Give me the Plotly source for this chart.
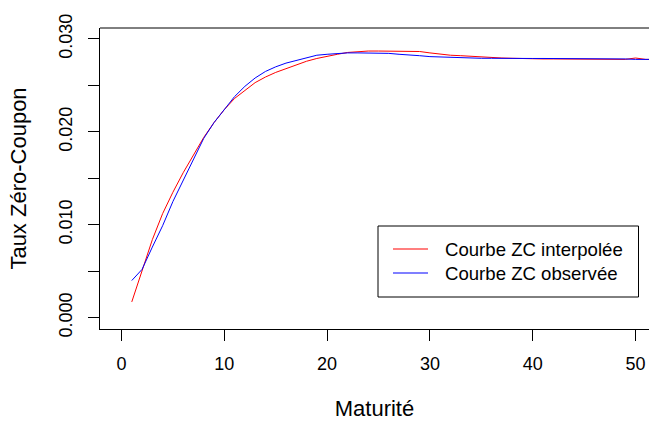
import plotly.graph_objects as go

maturite = list(range(1, 53))

zc_observee = [4.0, 5.2, 7.6, 9.9, 12.5, 14.8, 17.0, 19.3, 21.0, 22.4,
               23.8, 24.9, 25.8, 26.5, 27.0, 27.4, 27.7, 28.0, 28.25, 28.35,
               28.45, 28.5, 28.5, 28.5, 28.5, 28.45, 28.35, 28.3, 28.2, 28.1,
               28.05, 28.0, 27.95, 27.92, 27.92, 27.92, 27.9, 27.9, 27.9, 27.9,
               27.9, 27.9, 27.9, 27.9, 27.9, 27.85, 27.85, 27.85, 27.85, 27.8,
               27.8, 27.8]

zc_interpolee = [1.7, 5.1, 8.4, 11.2, 13.5, 15.6, 17.5, 19.4, 21.0, 22.4,
                 23.6, 24.5, 25.3, 25.9, 26.4, 26.8, 27.2, 27.6, 27.9, 28.15,
                 28.35, 28.55, 28.65, 28.7, 28.7, 28.7, 28.7, 28.7, 28.65, 28.5,
                 28.35, 28.25, 28.2, 28.12, 28.05, 28.0, 27.95, 27.92, 27.88, 27.85,
                 27.85, 27.85, 27.85, 27.85, 27.85, 27.8, 27.8, 27.8, 27.8, 27.95,
                 27.8, 27.8]

zc_observee = [v / 1000 for v in zc_observee]
zc_interpolee = [v / 1000 for v in zc_interpolee]

x_ticks = [0, 10, 20, 30, 40, 50]
y_ticks = [0.0, 0.005, 0.010, 0.015, 0.020, 0.025, 0.030]
y_ticktext = ["0.000", "", "0.010", "", "0.020", "", "0.030"]

series_names = ["Courbe ZC interpolée", "Courbe ZC observée"]
series_colors = ["#FF0000", "#0000FF"]

FONT = "Liberation Sans, Arial, sans-serif"
W, H = 649, 421
ML, MR, MT, MB = 100, 0, 28, 92
PW, PH = W - ML - MR, H - MT - MB


def px_x(px):
    return (px - ML) / PW


def px_y(py):
    return (H - MB - py) / PH


fig = go.Figure()
for name, col, ys in zip(series_names, series_colors, [zc_interpolee, zc_observee]):
    fig.add_trace(go.Scatter(x=maturite, y=ys, mode="lines", name=name,
                             line=dict(color=col, width=1)))

fig.update_layout(
    width=W, height=H,
    margin=dict(l=ML, r=MR, t=MT, b=MB),
    paper_bgcolor="white", plot_bgcolor="white",
    font=dict(family=FONT, size=18, color="black"),
    showlegend=False,
    xaxis=dict(range=[-2.09, 51.31], tickvals=x_ticks, showgrid=False,
               zeroline=False, showline=True, linecolor="black", linewidth=1,
               ticks="outside", ticklen=11, tickcolor="black", tickwidth=1,
               ticklabelstandoff=7,
               title=dict(text="Maturité", standoff=28)),
    yaxis=dict(range=[-0.001216, 0.03118], tickvals=y_ticks, ticktext=y_ticktext,
               tickangle=-90, showgrid=False, zeroline=False, showline=True,
               linecolor="black", linewidth=1, ticks="outside", ticklen=11,
               tickcolor="black", tickwidth=1, ticklabelstandoff=9,
               title=dict(text="Taux Zéro-Coupon", standoff=23)),
)
# top border of the box
fig.add_shape(type="line", xref="paper", yref="paper", x0=0, x1=1, y0=1, y1=1,
              line=dict(color="black", width=1))

# legend box (R style)
fig.add_shape(type="rect", xref="paper", yref="paper",
              x0=px_x(378), x1=px_x(638.5), y0=px_y(297), y1=px_y(226),
              line=dict(color="black", width=1), fillcolor="white")
for i, (name, col) in enumerate(zip(series_names, series_colors)):
    yy = 249 + 24 * i
    fig.add_shape(type="line", xref="paper", yref="paper",
                  x0=px_x(393), x1=px_x(428), y0=px_y(yy), y1=px_y(yy),
                  line=dict(color=col, width=1.2))
    fig.add_annotation(xref="paper", yref="paper", x=px_x(443), y=px_y(yy),
                       xanchor="left", yanchor="middle", showarrow=False,
                       text=name, font=dict(size=18.6, color="black"))

fig.write_html("out.html")
